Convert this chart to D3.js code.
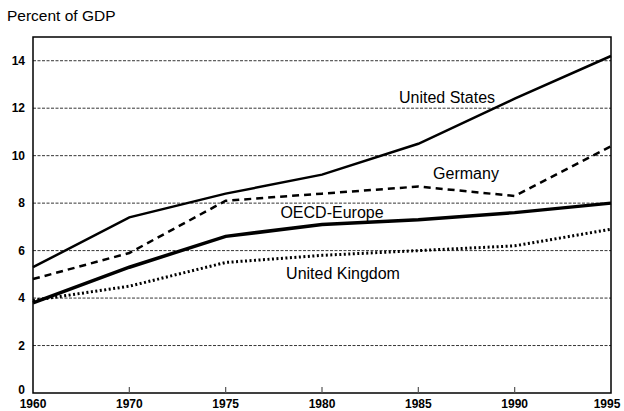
<!DOCTYPE html>
<html>
<head>
<meta charset="utf-8">
<script src="https://cdn.jsdelivr.net/npm/d3@7"></script>
<style>
  body { margin: 0; background: #fff; }
  svg { font-family: "Liberation Sans", Arial, sans-serif; display: block; }
</style>
</head>
<body>
<svg id="chart" width="624" height="411"></svg>
<script>
const years = ['1960', '1970', '1975', '1980', '1985', '1990', '1995']
const unitedStates = [5.3, 7.4, 8.4, 9.2, 10.5, 12.4, 14.2]
const germany = [4.8, 5.9, 8.1, 8.4, 8.7, 8.3, 10.4]
const oecdEurope = [3.8, 5.3, 6.6, 7.1, 7.3, 7.6, 8.0]
const unitedKingdom = [3.9, 4.5, 5.5, 5.8, 6.0, 6.2, 6.9]
const yTicks = [0, 2, 4, 6, 8, 10, 12, 14]

const margin = {top: 37, right: 13, bottom: 18, left: 33}
const width = 624, height = 411

const svg = d3.select('#chart')

const x = d3.scalePoint().domain(years).range([margin.left, width - margin.right])
const y = d3.scaleLinear().domain([0, 15]).range([height - margin.bottom, margin.top])

// grid lines
svg.append('g')
    .selectAll('line')
    .data(yTicks.filter(d => d > 0))
    .join('line')
    .attr('x1', margin.left)
    .attr('x2', width - margin.right)
    .attr('y1', d => y(d))
    .attr('y2', d => y(d))
    .attr('stroke', '#000')
    .attr('stroke-width', 0.8)
    .attr('stroke-dasharray', '3,1.5')

// frame
svg.append('rect')
    .attr('x', margin.left)
    .attr('y', margin.top)
    .attr('width', width - margin.right - margin.left)
    .attr('height', height - margin.bottom - margin.top)
    .attr('fill', 'none')
    .attr('stroke', '#000')
    .attr('stroke-width', 1.5)

// x ticks
svg.append('g')
    .selectAll('line')
    .data(years.slice(1, -1))
    .join('line')
    .attr('x1', d => x(d))
    .attr('x2', d => x(d))
    .attr('y1', y(0))
    .attr('y2', y(0) - 6)
    .attr('stroke', '#555')
    .attr('stroke-width', 1.2)

// axis labels
svg.append('g')
    .selectAll('text')
    .data(yTicks)
    .join('text')
    .attr('x', 25)
    .attr('y', d => d === 0 ? y(d) - 3 : y(d))
    .attr('dy', '0.35em')
    .attr('text-anchor', 'end')
    .attr('font-size', '12px')
    .attr('font-weight', 'bold')
    .text(d => d)

svg.append('g')
    .selectAll('text')
    .data(years)
    .join('text')
    .attr('x', (d, i) => i === years.length - 1 ? x(d) - 4 : x(d))
    .attr('y', height - 3)
    .attr('text-anchor', 'middle')
    .attr('font-size', '12px')
    .attr('font-weight', 'bold')
    .text(d => d)

svg.append('text')
    .attr('x', 7)
    .attr('y', 21)
    .attr('font-size', '15.5px')
    .text('Percent of GDP')

const line = d3.line()
    .x((d, i) => x(years[i]))
    .y(d => y(d))

const series = [
    {name: 'United States', values: unitedStates, width: 2.5, dash: null, lx: 447, ly: 97},
    {name: 'Germany', values: germany, width: 2.5, dash: '7,5', lx: 466, ly: 173},
    {name: 'OECD-Europe', values: oecdEurope, width: 3.5, dash: null, lx: 332, ly: 212},
    {name: 'United Kingdom', values: unitedKingdom, width: 3, dash: '2,2.5', lx: 343, ly: 273}
]

for (let s of series) {
    svg.append('path')
        .attr('d', line(s.values))
        .attr('fill', 'none')
        .attr('stroke', '#000')
        .attr('stroke-width', s.width)
        .attr('stroke-dasharray', s.dash)
    svg.append('text')
        .attr('x', s.lx)
        .attr('y', s.ly)
        .attr('dy', '0.35em')
        .attr('text-anchor', 'middle')
        .attr('font-size', '16px')
        .text(s.name)
}
</script>
</body>
</html>
